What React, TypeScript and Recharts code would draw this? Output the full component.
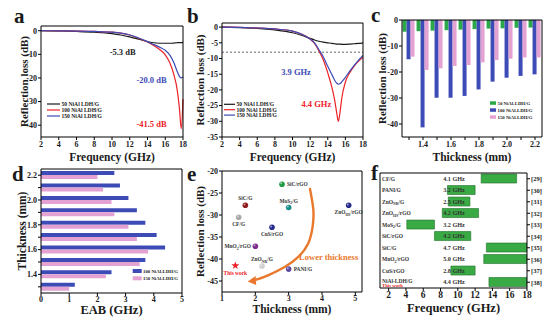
import React from 'react';
import {
  LineChart, Line, BarChart, Bar, ScatterChart, Scatter,
  XAxis, YAxis, ReferenceLine, ReferenceDot,
} from 'recharts';

const FONT = '"Liberation Serif", "Times New Roman", serif';
const INK = '#1a1a1a';
const RED = '#ec2227';
const BLUE = '#3c4bb6';
const PINK = '#e4a2d2';
const GREEN = '#2aa84a';
const F_GREEN = '#3aaa45';
const F_EDGE = '#1f6e2a';
const ORANGE = '#e9782d';

// a: reflection loss vs frequency
const aFreq = [2, 4, 6, 8, 10, 11, 12, 13, 14, 14.5, 15, 15.5, 16, 16.5, 17, 17.3, 17.6, 17.8, 18];
const aRL50 = [0, -0.1, -0.3, -0.6, -1.2, -1.8, -2.6, -3.6, -4.6, -5.0, -5.2, -5.3, -5.3, -5.3, -5.2, -5.1, -5.0, -5.0, -4.9];
const aRL100 = [0, -0.05, -0.15, -0.3, -0.6, -1.0, -1.8, -3.2, -4.8, -5.8, -7.0, -8.4, -10.2, -13.5, -19, -24, -33, -41.5, -29];
const aRL150 = [0, -0.05, -0.15, -0.3, -0.6, -1.0, -1.8, -3.1, -4.6, -5.5, -6.3, -7.2, -8.3, -10.2, -13.8, -16.8, -19.3, -20, -19.6];

// b: reflection loss vs frequency, other thickness
const bFreq = [2, 4, 6, 8, 10, 11, 12, 12.5, 13, 13.5, 14, 14.5, 14.8, 15, 15.2, 15.4, 15.6, 16, 16.5, 17, 17.5, 18];
const bRL50 = [0, -0.2, -0.4, -0.9, -1.8, -2.6, -3.6, -4.1, -4.5, -4.8, -5.0, -5.2, -5.3, -5.4, -5.4, -5.4, -5.5, -5.5, -5.4, -5.3, -5.2, -5.0];
const bRL100 = [0, -0.1, -0.3, -0.6, -1.3, -2.2, -3.8, -5.2, -7.6, -10.5, -14.6, -19.5, -23.5, -27, -30, -27, -22.5, -17.5, -14.5, -12.4, -10.8, -9.6];
const bRL150 = [0, -0.1, -0.3, -0.6, -1.3, -2.2, -3.8, -5.0, -7.2, -9.5, -12.5, -15.3, -17, -17.8, -18.2, -18, -17.4, -16, -14, -12.2, -10.5, -9.0];

// c: RL minimum vs thickness
const thickness = ['1.3', '1.4', '1.5', '1.6', '1.7', '1.8', '1.9', '2.0', '2.1', '2.2'];
const cRL50 = [-4.5, -4.3, -4.1, -3.9, -3.7, -3.5, -3.3, -3.2, -3.0, -2.9];
const cRL100 = [-15.1, -41.3, -29.9, -29.9, -29.2, -26.7, -23.7, -22.2, -21.5, -20.9];
const cRL150 = [-14.1, -19.2, -18.6, -17.7, -17.3, -16.3, -15.4, -14.9, -14.4, -14.4];

// d: effective absorption bandwidth vs thickness
const dEAB100 = [1.2, 2.5, 3.7, 4.4, 4.1, 3.7, 3.4, 3.1, 2.8, 2.6];
const dEAB150 = [1.0, 2.3, 3.5, 3.8, 3.4, 3.1, 2.6, 2.5, 2.2, 2.0];

// e: comparison with reported absorbers
const eNames = ['SiC/rGO', 'SiC/G', 'MoS_2/G', 'ZnO_{HS}/rGO', 'CF/G', 'CuS/rGO', 'MnO_2/rGO', 'ZnO_{NR}/G', 'PANI/G'];
const eThick = [2.8, 1.7, 3.0, 4.8, 1.5, 2.5, 2.0, 2.2, 3.0];
const eRL = [-23, -27.8, -28.3, -27.8, -30.5, -32.8, -37.1, -41.6, -42.3];
const eThisWork = { x: 1.4, y: -41.5 };
const eArrowX = [3.64, 3.74, 3.72, 3.59, 3.29, 2.88, 2.38, 2.03];
const eArrowY = [-24.1, -28.8, -32.6, -36.4, -39.5, -41.8, -43.7, -44.7];

// f: absorption bands
const fNames = ['CF/G', 'PANI/G', 'ZnO_{NR}/G', 'ZnO_{HS}/rGO', 'MoS_2/G', 'SiC/rGO', 'SiC/G', 'MnO_2/rGO', 'CuS/rGO', 'NiAl-LDH/G'];
const fStart = [12.7, 8.8, 8.9, 8.2, 4.1, 7.3, 13.3, 13.0, 9.2, 13.6];
const fEnd = [16.8, 12.0, 11.4, 12.4, 7.3, 11.5, 18, 18, 12.0, 18];
const fEAB = [4.1, 3.2, 2.5, 4.2, 3.2, 4.2, 4.7, 5.0, 2.8, 4.4];
const fCites = ['[29]', '[30]', '[31]', '[32]', '[33]', '[34]', '[35]', '[36]', '[37]', '[38]'];

const freqTicks = [2, 4, 6, 8, 10, 12, 14, 16, 18];

const aData = aFreq.map((f, i) => ({ f, s50: aRL50[i], s100: aRL100[i], s150: aRL150[i] }));
const bData = bFreq.map((f, i) => ({ f, s50: bRL50[i], s100: bRL100[i], s150: bRL150[i] }));
const cData = thickness.map((t, i) => ({ t, s50: cRL50[i], s100: cRL100[i], s150: cRL150[i] }));
const dData = thickness.map((t, i) => ({ t, s100: dEAB100[i], s150: dEAB150[i] }));
const ePts = eNames.map((name, i) => ({ name, x: eThick[i], y: eRL[i] }));
const eArrow = eArrowX.map((x, i) => ({ x, y: eArrowY[i] }));
const fData = fNames.map((name, i) => ({ name, band: [fStart[i], fEnd[i]], cite: fCites[i] }));

const aNotes = [
  { x: 11.2, y: -9.2, text: '-5.3 dB', color: INK },
  { x: 14.45, y: -20.9, text: '-20.0 dB', color: BLUE },
  { x: 14.45, y: -39.6, text: '-41.5 dB', color: RED },
];
const bNotes = [
  { x: 10.4, y: -14.3, text: '3.9 GHz', color: BLUE },
  { x: 12.7, y: -24.6, text: '4.4 GHz', color: RED },
];

const eColors: Record<string, string> = {
  'SiC/rGO': '#1f9a45',
  'SiC/G': '#8e1b1b',
  'MoS_2/G': '#178a8a',
  'ZnO_{HS}/rGO': '#262a8c',
  'CF/G': '#a8a8a8',
  'CuS/rGO': '#262a8c',
  'MnO_2/rGO': '#7b2c8e',
  'ZnO_{NR}/G': '#cfcfcf',
  'PANI/G': '#5b4aa3',
};
// label offset from the marker: dx, dy, anchor
const eLabelPos: Record<string, [number, number, 'start' | 'middle' | 'end']> = {
  'SiC/rGO': [5, 1.8, 'start'],
  'SiC/G': [0, -5, 'middle'],
  'MoS_2/G': [0, -5, 'middle'],
  'ZnO_{HS}/rGO': [0, 9, 'middle'],
  'CF/G': [0, 9, 'middle'],
  'CuS/rGO': [0, 9, 'middle'],
  'MnO_2/rGO': [-4.5, 1.8, 'end'],
  'ZnO_{NR}/G': [0, -5, 'middle'],
  'PANI/G': [5, 1.8, 'start'],
};

const serif = { fontFamily: FONT, fontWeight: 700 };
const tickFont = { fontSize: 8, fontWeight: 700, fontFamily: FONT, fill: INK, style: serif };
const titleFont = { fontWeight: 700, fontFamily: FONT, fill: INK };

const yTitle = (value: string, offset: number, fs = 11) => ({
  value, angle: -90, position: 'insideLeft' as const, offset,
  style: { textAnchor: 'middle', ...serif }, ...titleFont, fontSize: fs,
});
const xTitle = (value: string, offset: number, fs = 11.5) => ({
  value, position: 'insideBottom' as const, offset, ...titleFont, fontSize: fs, style: serif,
});

// "MoS_2/G", "ZnO_{NR}/G" -> tspans with subscripts
const chemParts = (s: string) => {
  const out: { t: string; sub: boolean }[] = [];
  const re = /_(?:\{([^}]*)\}|(\w))/g;
  let last = 0;
  let m: RegExpExecArray | null;
  while ((m = re.exec(s))) {
    if (m.index > last) out.push({ t: s.slice(last, m.index), sub: false });
    out.push({ t: m[1] ?? m[2], sub: true });
    last = re.lastIndex;
  }
  if (last < s.length) out.push({ t: s.slice(last), sub: false });
  return out;
};
const chem = (s: string, fs: number) => {
  let prevSub = false;
  return chemParts(s).map((p, i) => {
    const dy = p.sub && !prevSub ? fs * 0.3 : !p.sub && prevSub ? -fs * 0.3 : 0;
    prevSub = p.sub;
    return (
      <tspan key={i} dy={dy} fontSize={p.sub ? fs * 0.7 : fs}>{p.t}</tspan>
    );
  });
};

const noteLabel = (text: string, color: string, fs = 8.5) => ({
  value: text, position: 'center' as const, fill: color, fontSize: fs, fontWeight: 700, fontFamily: FONT, style: serif,
});

const PanelA = () => (
  <LineChart width={190} height={165} data={aData} margin={{ top: 25, right: 6, bottom: 0, left: 5 }}>
    <XAxis type="number" dataKey="f" domain={[2, 18]} ticks={freqTicks} interval={0} stroke="#000"
      tick={tickFont} tickSize={3} tickMargin={1} height={28} label={xTitle('Frequency (GHz)', 4)} />
    <YAxis type="number" domain={[-45, 2]} ticks={[-40, -30, -20, -10, 0]} interval={0} stroke="#000"
      tick={tickFont} tickSize={3} tickMargin={1} width={36} label={yTitle('Reflection loss (dB)', 19)} />
    <XAxis xAxisId="top" orientation="top" type="number" domain={[2, 18]} height={1} tick={false} tickLine={false} stroke="#000" />
    <YAxis yAxisId="right" orientation="right" type="number" domain={[-45, 2]} width={1} tick={false} tickLine={false} stroke="#000" />
    <Line type="monotone" dataKey="s50" stroke={INK} strokeWidth={1.2} dot={false} isAnimationActive={false} />
    <Line type="monotone" dataKey="s100" stroke={RED} strokeWidth={1.2} dot={false} isAnimationActive={false} />
    <Line type="monotone" dataKey="s150" stroke={BLUE} strokeWidth={1.2} dot={false} isAnimationActive={false} />
    {aNotes.map((n) => (
      <ReferenceDot key={n.text} x={n.x} y={n.y} r={0} stroke="none" label={noteLabel(n.text, n.color)} />
    ))}
  </LineChart>
);

const PanelB = () => (
  <LineChart width={185} height={165} data={bData} margin={{ top: 22, right: 6, bottom: 0, left: 3 }}>
    <XAxis type="number" dataKey="f" domain={[2, 18]} ticks={freqTicks} interval={0} stroke="#000"
      tick={tickFont} tickSize={3} tickMargin={1} height={28} label={xTitle('Frequency (GHz)', 4)} />
    <YAxis type="number" domain={[-35, 1.3]} ticks={[-35, -30, -25, -20, -15, -10, -5, 0]} interval={0} stroke="#000"
      tick={tickFont} tickSize={3} tickMargin={1} width={34} label={yTitle('Reflection loss (dB)', 12)} />
    <XAxis xAxisId="top" orientation="top" type="number" domain={[2, 18]} height={1} tick={false} tickLine={false} stroke="#000" />
    <YAxis yAxisId="right" orientation="right" type="number" domain={[-35, 1.3]} width={1} tick={false} tickLine={false} stroke="#000" />
    <ReferenceLine y={-8} stroke="#555" strokeDasharray="2 2" strokeWidth={0.9} />
    <Line type="monotone" dataKey="s50" stroke={INK} strokeWidth={1.2} dot={false} isAnimationActive={false} />
    <Line type="monotone" dataKey="s100" stroke={RED} strokeWidth={1.2} dot={false} isAnimationActive={false} />
    <Line type="monotone" dataKey="s150" stroke={BLUE} strokeWidth={1.2} dot={false} isAnimationActive={false} />
    {bNotes.map((n) => (
      <ReferenceDot key={n.text} x={n.x} y={n.y} r={0} stroke="none" label={noteLabel(n.text, n.color)} />
    ))}
  </LineChart>
);

const PanelC = () => (
  <BarChart width={185} height={165} data={cData} margin={{ top: 19, right: 12, bottom: 0, left: 3 }}
    barCategoryGap="4%" barGap={0}>
    <XAxis dataKey="t" interval={0} tickFormatter={(v: string, i: number) => (i % 2 === 1 ? v : '')} stroke="#000"
      tick={tickFont} tickSize={3} tickMargin={1} height={28} label={xTitle('Thickness (mm)', 4)} />
    <YAxis type="number" domain={[-45, 0]} ticks={[-40, -30, -20, -10, 0]} interval={0} stroke="#000"
      tick={tickFont} tickSize={3} tickMargin={1} width={29} label={yTitle('Reflection loss (dB)', 9)} />
    <XAxis xAxisId="top" orientation="top" dataKey="t" height={1} tick={false} tickLine={false} stroke="#000" />
    <YAxis yAxisId="right" orientation="right" type="number" domain={[-45, 0]} width={1} tick={false} tickLine={false} stroke="#000" />
    <Bar dataKey="s50" fill={GREEN} isAnimationActive={false} />
    <Bar dataKey="s100" fill={BLUE} isAnimationActive={false} />
    <Bar dataKey="s150" fill={PINK} isAnimationActive={false} />
  </BarChart>
);

const PanelD = () => (
  <BarChart layout="vertical" width={185} height={164} data={dData} margin={{ top: 8, right: 2, bottom: 0, left: 5 }}
    barCategoryGap="17%" barGap={0}>
    <XAxis type="number" domain={[0, 5]} ticks={[0, 1, 2, 3, 4, 5]} interval={0} stroke="#000"
      tick={tickFont} tickSize={3} tickMargin={0} height={31} label={xTitle('EAB (GHz)', 10, 12.5)} />
    <YAxis type="category" dataKey="t" reversed interval={0} tickFormatter={(v: string, i: number) => (i % 2 === 1 ? v : '')}
      stroke="#000" tick={tickFont} tickSize={3} tickMargin={1} width={36} label={yTitle('Thickness (mm)', 17, 11.5)} />
    <XAxis xAxisId="top" orientation="top" type="number" domain={[0, 5]} height={1} tick={false} tickLine={false} stroke="#000" />
    <YAxis yAxisId="right" orientation="right" type="category" dataKey="t" reversed width={1} tick={false} tickLine={false} stroke="#000" />
    <Bar dataKey="s100" fill={BLUE} isAnimationActive={false} />
    <Bar dataKey="s150" fill={PINK} isAnimationActive={false} />
  </BarChart>
);

const EPoint = (props: any) => {
  const { cx, cy, payload } = props;
  const c = eColors[payload.name];
  const [dx, dy, anchor] = eLabelPos[payload.name];
  return (
    <g>
      <circle cx={cx} cy={cy} r={2.8} fill={c} />
      <circle cx={cx - 0.9} cy={cy - 0.9} r={1} fill="#fff" opacity={0.55} />
      <text x={cx + dx} y={cy + dy} textAnchor={anchor} fontWeight={700} fontFamily={FONT} fill="#333" fontSize={5.4}>
        {chem(payload.name, 5.4)}
      </text>
    </g>
  );
};

const StarPoint = (props: any) => {
  const { cx, cy } = props;
  const pts: string[] = [];
  for (let i = 0; i < 10; i++) {
    const r = i % 2 ? 1.7 : 4.2;
    const a = -Math.PI / 2 + (i * Math.PI) / 5;
    pts.push(`${cx + r * Math.cos(a)},${cy + r * Math.sin(a)}`);
  }
  return (
    <g>
      <polygon points={pts.join(' ')} fill={RED} />
      <text x={cx} y={cy + 9} textAnchor="middle" fontSize={5.4} fontWeight={700} fontFamily={FONT} fill={RED}>This work</text>
    </g>
  );
};

const ArrowHead = (props: any) => {
  const { cx, cy } = props;
  return <polygon points={`${cx - 2},${cy + 0.5} ${cx + 6},${cy - 5} ${cx + 6.5},${cy + 4}`} fill={ORANGE} />;
};

const PanelE = () => (
  <ScatterChart width={185} height={164} margin={{ top: 10, right: 7, bottom: 0, left: 3 }}>
    <XAxis type="number" dataKey="x" domain={[1, 5.2]} ticks={[1, 2, 3, 4, 5]} interval={0} stroke="#000"
      tick={tickFont} tickSize={3} tickMargin={0} height={32} label={xTitle('Thickness (mm)', 11)} />
    <YAxis type="number" dataKey="y" domain={[-47.5, -20]} ticks={[-45, -40, -35, -30, -25, -20]} interval={0} stroke="#000"
      tick={tickFont} tickSize={3} tickMargin={1} width={34} label={yTitle('Reflection loss (dB)', 12)} />
    <XAxis xAxisId="top" orientation="top" type="number" domain={[1, 5.2]} height={1} tick={false} tickLine={false} stroke="#000" />
    <YAxis yAxisId="right" orientation="right" type="number" domain={[-47.5, -20]} width={1} tick={false} tickLine={false} stroke="#000" />
    <Scatter data={eArrow} line={{ stroke: ORANGE, strokeWidth: 2.4, strokeLinecap: 'round' }} lineJointType="natural"
      shape={() => <g />} isAnimationActive={false} />
    <Scatter data={[{ x: 1.83, y: -45 }]} shape={ArrowHead} isAnimationActive={false} />
    <Scatter data={ePts} shape={EPoint} isAnimationActive={false} />
    <Scatter data={[eThisWork]} shape={StarPoint} isAnimationActive={false} />
    <ReferenceDot x={4.2} y={-39.6} r={0} stroke="none" label={noteLabel('Lower thickness', ORANGE, 8.5)} />
  </ScatterChart>
);

const FRowTick = (props: any) => {
  const { x, y, payload } = props;
  const idx = fNames.indexOf(payload.value);
  const last = idx === fNames.length - 1;
  const ny = last ? y - 1.5 : y;
  return (
    <g fontFamily={FONT} fontWeight={700}>
      <text x={x + 2} y={ny + 2} fontSize={5.5} fill="#333">{chem(payload.value, 5.5)}</text>
      <text x={x + 74} y={y + 2.2} textAnchor="middle" fontSize={6.2} fill="#333">{`${fEAB[idx].toFixed(1)} GHz`}</text>
      {last && <text x={x + 2} y={y + 5.2} fontSize={4.8} fill={RED}>This work</text>}
    </g>
  );
};

const PanelF = () => (
  <BarChart layout="vertical" width={185} height={164} data={fData} margin={{ top: 12, right: 6, bottom: 0, left: 9 }}
    barCategoryGap="9%">
    <XAxis type="number" domain={[1, 18]} ticks={freqTicks} interval={0} allowDataOverflow stroke="#000"
      tick={{ ...tickFont, fontSize: 9.5 }} tickSize={3} tickMargin={0} height={36} label={xTitle('Frequency (GHz)', 12, 12.5)} />
    <XAxis xAxisId="top" orientation="top" type="number" domain={[1, 18]} height={1} tick={false} tickLine={false} stroke="#000" />
    <YAxis yAxisId="right" orientation="right" type="category" dataKey="cite" interval={0} stroke="#000"
      tick={{ ...tickFont, fontSize: 6.5 }} tickSize={3} tickMargin={1} width={22} />
    <Bar dataKey="band" fill={F_GREEN} stroke={F_EDGE} strokeWidth={0.6} isAnimationActive={false} />
    <YAxis type="category" dataKey="name" interval={0} width={1} tickSize={0} tickMargin={0} tickLine={false}
      stroke="#000" tick={FRowTick} />
  </BarChart>
);

const legendA = ['50 NiAl LDH/G', '100 NiAl LDH/G', '150 NiAl LDH/G'];
const legendC = ['50 NiAl-LDH/G', '100 NiAl-LDH/G', '150 NiAl-LDH/G'];

const Overlay = () => {
  const lineColors = [INK, RED, BLUE];
  const barColors = [GREEN, BLUE, PINK];
  const t = { fontFamily: FONT, fontWeight: 700, fill: INK } as const;
  return (
    <svg width={555} height={324} style={{ position: 'absolute', left: 0, top: 0, pointerEvents: 'none' }}>
      <g {...t} fontSize={21}>
        <text x={14} y={23}>a</text>
        <text x={187} y={23}>b</text>
        <text x={371} y={22}>c</text>
        <text x={12} y={181}>d</text>
        <text x={187} y={181}>e</text>
        <text x={371} y={180}>f</text>
      </g>
      {legendA.map((l, i) => (
        <g key={'a' + l}>
          <line x1={47} x2={60} y1={104 + i * 6} y2={104 + i * 6} stroke={lineColors[i]} strokeWidth={1.2} />
          <text {...t} x={61.5} y={106 + i * 6} fontSize={5.6}>{l}</text>
        </g>
      ))}
      {legendA.map((l, i) => (
        <g key={'b' + l}>
          <line x1={224} x2={235} y1={104.3 + i * 5.4} y2={104.3 + i * 5.4} stroke={lineColors[i]} strokeWidth={1.2} />
          <text {...t} x={236.5} y={106.3 + i * 5.4} fontSize={5.6}>{l}</text>
        </g>
      ))}
      {legendC.map((l, i) => (
        <g key={'c' + l}>
          <rect x={490} y={101.3 + i * 7} width={6} height={3.5} fill={barColors[i]} />
          <text {...t} x={497.5} y={104.7 + i * 7} fontSize={4.8}>{l}</text>
        </g>
      ))}
      {legendC.slice(1).map((l, i) => (
        <g key={'d' + l}>
          <rect x={132.7} y={269 + i * 7.3} width={9} height={4} fill={barColors[i + 1]} />
          <text {...t} x={143} y={272.6 + i * 7.3} fontSize={4.8}>{l}</text>
        </g>
      ))}
    </svg>
  );
};

const place = (left: number, top: number, node: React.ReactNode) => (
  <div style={{ position: 'absolute', left, top }}>{node}</div>
);

export default function App() {
  return (
    <div style={{ position: 'absolute', left: 0, top: 0, width: 555, height: 324, background: '#fff', overflow: 'hidden', fontFamily: FONT }}>
      {place(0, 0, <PanelA />)}
      {place(185, 0, <PanelB />)}
      {place(370, 0, <PanelC />)}
      {place(0, 160, <PanelD />)}
      {place(185, 160, <PanelE />)}
      {place(370, 160, <PanelF />)}
      <Overlay />
    </div>
  );
}
